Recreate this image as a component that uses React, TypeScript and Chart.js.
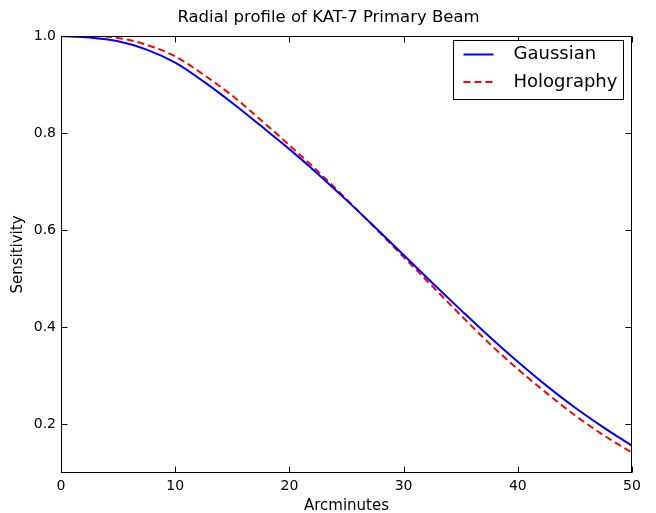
import React, { useEffect, useRef } from "react";
import { Chart, registerables } from "chart.js";

Chart.register(...registerables);

const arcmin = [0, 2.5, 5, 7.5, 10, 12.5, 15, 17.5, 20, 22.5, 25, 27.5, 30, 32.5, 35, 37.5, 40, 42.5, 45, 47.5, 50];
const gaussian = [1.0, 0.997, 0.989, 0.972, 0.945, 0.906, 0.862, 0.815, 0.767, 0.716, 0.662, 0.606, 0.549, 0.492, 0.436, 0.381, 0.329, 0.28, 0.235, 0.194, 0.156];
const holography = [1.0, 1.0, 0.996, 0.982, 0.958, 0.92, 0.877, 0.827, 0.775, 0.721, 0.664, 0.605, 0.545, 0.485, 0.425, 0.367, 0.314, 0.265, 0.219, 0.178, 0.142];
const xTicks = [0, 10, 20, 30, 40, 50];
const yTicks = [0.2, 0.4, 0.6, 0.8, 1.0];
const seriesNames = ["Gaussian", "Holography"];
const titleText = "Radial profile of KAT-7 Primary Beam";
const xLabel = "Arcminutes";
const yLabel = "Sensitivity";

const FONT = "'DejaVu Sans', sans-serif";

const framePlugin = {
  id: "frame",
  afterDatasetsDraw(chart: any) {
    const { ctx, chartArea, scales } = chart;
    const { left, right, top, bottom } = chartArea;
    ctx.save();
    ctx.strokeStyle = "#000";
    ctx.lineWidth = 1;
    const L = Math.round(left) + 0.5, R = Math.round(right) - 0.5;
    const T = Math.round(top) + 0.5, B = Math.round(bottom) - 0.5;
    ctx.strokeRect(L, T, R - L, B - T);
    const tl = 6;
    ctx.beginPath();
    for (const v of xTicks) {
      const x = Math.round(scales.x.getPixelForValue(v)) + 0.5;
      ctx.moveTo(x, B); ctx.lineTo(x, B - tl);
      ctx.moveTo(x, T); ctx.lineTo(x, T + tl);
    }
    for (const v of yTicks) {
      const y = Math.round(scales.y.getPixelForValue(v)) + 0.5;
      ctx.moveTo(L, y); ctx.lineTo(L + tl, y);
      ctx.moveTo(R, y); ctx.lineTo(R - tl, y);
    }
    ctx.stroke();
    ctx.restore();
  },
  afterDraw(chart: any) {
    const { ctx, chartArea } = chart;
    ctx.save();
    // title
    ctx.fillStyle = "#000";
    ctx.font = `16.5px ${FONT}`;
    ctx.textAlign = "center";
    ctx.textBaseline = "middle";
    ctx.fillText(titleText, 328.5, 17.5);
    // legend
    const w = 170, h = 59;
    const x0 = Math.round(chartArea.right - 9 - w) + 0.5;
    const y0 = Math.round(chartArea.top + 4) + 0.5;
    ctx.fillStyle = "#fff";
    ctx.fillRect(x0, y0, w, h);
    ctx.strokeStyle = "#000";
    ctx.lineWidth = 1;
    ctx.strokeRect(x0, y0, w, h);
    ctx.font = `18px ${FONT}`;
    ctx.textBaseline = "middle";
    ctx.textAlign = "left";
    chart.data.datasets.forEach((ds: any, i: number) => {
      const y = y0 + 14 + i * 27.5;
      ctx.beginPath();
      ctx.strokeStyle = ds.borderColor;
      ctx.lineWidth = ds.borderWidth;
      ctx.setLineDash(ds.borderDash || []);
      ctx.moveTo(x0 + 10, y);
      ctx.lineTo(x0 + 40, y);
      ctx.stroke();
      ctx.setLineDash([]);
      ctx.fillStyle = "#000";
      ctx.fillText(ds.label, x0 + 60, y);
    });
    ctx.restore();
  },
};

export default function App() {
  const ref = useRef<HTMLCanvasElement | null>(null);
  useEffect(() => {
    if (!ref.current) return;
    const chart = new Chart(ref.current, {
      type: "line",
      data: {
        datasets: [
          {
            label: seriesNames[0],
            data: arcmin.map((x, i) => ({ x, y: gaussian[i] })),
            borderColor: "#0000ff",
            borderWidth: 2,
            pointRadius: 0,
            cubicInterpolationMode: "monotone",
            fill: false,
          },
          {
            label: seriesNames[1],
            data: arcmin.map((x, i) => ({ x, y: holography[i] })),
            borderColor: "#ff0000",
            borderWidth: 2,
            borderDash: [7, 4],
            pointRadius: 0,
            cubicInterpolationMode: "monotone",
            fill: false,
          },
        ],
      },
      options: {
        animation: false,
        responsive: false,
        layout: { padding: { left: 0, right: 24, top: 36, bottom: 0 } },
        plugins: {
          legend: { display: false },
          tooltip: { enabled: false },
          title: { display: false },
        },
        scales: {
          x: {
            type: "linear",
            min: 0,
            max: 50,
            afterBuildTicks: (s: any) => { s.ticks = xTicks.map((v) => ({ value: v })); },
            afterFit: (s: any) => { s.height = 40; },
            grid: { display: false, drawTicks: false },
            border: { display: false },
            ticks: { color: "#000", padding: 5, font: { family: FONT, size: 14 }, maxRotation: 0 },
            title: { display: true, text: xLabel, color: "#000", font: { family: FONT, size: 15 }, padding: { top: 0, bottom: -2 } },
          },
          y: {
            type: "linear",
            min: 0.1,
            max: 1.0,
            afterBuildTicks: (s: any) => { s.ticks = yTicks.map((v) => ({ value: v })); },
            afterFit: (s: any) => { s.width = 61; },
            grid: { display: false, drawTicks: false },
            border: { display: false },
            ticks: { color: "#000", padding: 5, font: { family: FONT, size: 14 }, callback: (v: any) => Number(v).toFixed(1) },
            title: { display: true, text: yLabel, color: "#000", font: { family: FONT, size: 15 }, padding: { top: 9, bottom: 0 } },
          },
        },
      },
      plugins: [framePlugin],
    } as any);
    return () => chart.destroy();
  }, []);
  return (
    <div style={{ position: "fixed", left: 0, top: 0, width: 656, height: 513, background: "#fff" }}>
      <canvas ref={ref} width={656} height={513} style={{ width: 656, height: 513 }} />
    </div>
  );
}
